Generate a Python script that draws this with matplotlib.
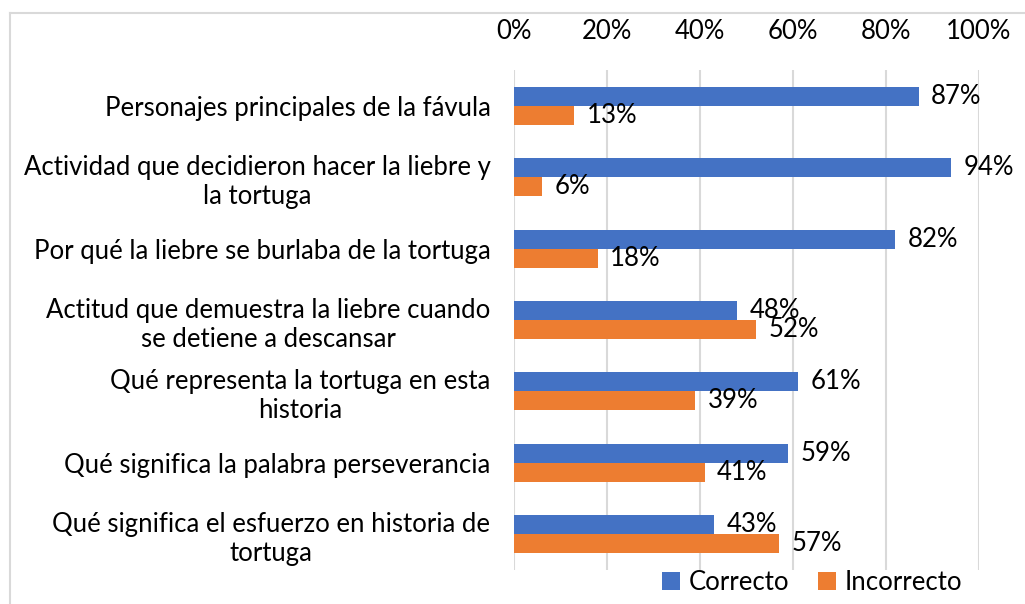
import matplotlib
matplotlib.use("Agg")
import matplotlib.pyplot as plt
import numpy as np
from matplotlib.lines import Line2D

plt.rcParams['font.family'] = ['Lato', 'DejaVu Sans']

preguntas = [
    "Personajes principales de la fávula",
    "Actividad que decidieron hacer la liebre y\nla tortuga",
    "Por qué la liebre se burlaba de la tortuga",
    "Actitud que demuestra la liebre cuando\nse detiene a descansar",
    "Qué representa la tortuga en esta\nhistoria",
    "Qué significa la palabra perseverancia",
    "Qué significa el esfuerzo en historia de\ntortuga",
]
correcto = [87, 94, 82, 48, 61, 59, 43]
incorrecto = [13, 6, 18, 52, 39, 41, 57]
ticks = [0, 20, 40, 60, 80, 100]

azul = "#4472C4"
naranja = "#ED7D31"
fs = 18.5

fig = plt.figure(figsize=(10.25, 6.04), dpi=100)
ax = fig.add_axes([514 / 1025, 1 - 570 / 604, 465 / 1025, 500 / 604])

y = np.arange(len(preguntas))
h = 0.266
b1 = ax.barh(y - h / 2, correcto, height=h, color=azul, label="Correcto", zorder=3)
b2 = ax.barh(y + h / 2, incorrecto, height=h, color=naranja, label="Incorrecto", zorder=3)

ax.bar_label(b1, labels=[f"{v}%" for v in correcto], padding=9, fontsize=fs)
ax.bar_label(b2, labels=[f"{v}%" for v in incorrecto], padding=9, fontsize=fs)

ax.set_xlim(0, 100)
ax.set_ylim(len(preguntas) - 0.5, -0.5)
ax.set_xticks(ticks)
ax.set_xticklabels([f"{t}%" for t in ticks], fontsize=fs)
ax.xaxis.tick_top()
ax.tick_params(axis='x', length=0, pad=19)
ax.set_yticks(y)
ax.set_yticklabels(preguntas, fontsize=fs, multialignment='center', linespacing=1.2)
ax.tick_params(axis='y', length=0, pad=17)
ax.grid(axis='x', color="#D9D9D9", linewidth=1.5, zorder=0)
for s in ax.spines.values():
    s.set_visible(False)

fig.legend(handles=[b1, b2], loc='center', bbox_to_anchor=(812 / 1025, 1 - 582 / 604),
           ncol=2, frameon=False, fontsize=fs, handlelength=0.7, handleheight=0.7,
           handletextpad=0.35, columnspacing=1.1)

# borde del area del grafico
bx, by = 10 / 1025, 1 - 13 / 604
fig.add_artist(Line2D([bx, bx], [0, by], color="#D9D9D9", linewidth=1.5))
fig.add_artist(Line2D([bx, 1], [by, by], color="#D9D9D9", linewidth=1.5))

fig.savefig("out.png", dpi=100)
